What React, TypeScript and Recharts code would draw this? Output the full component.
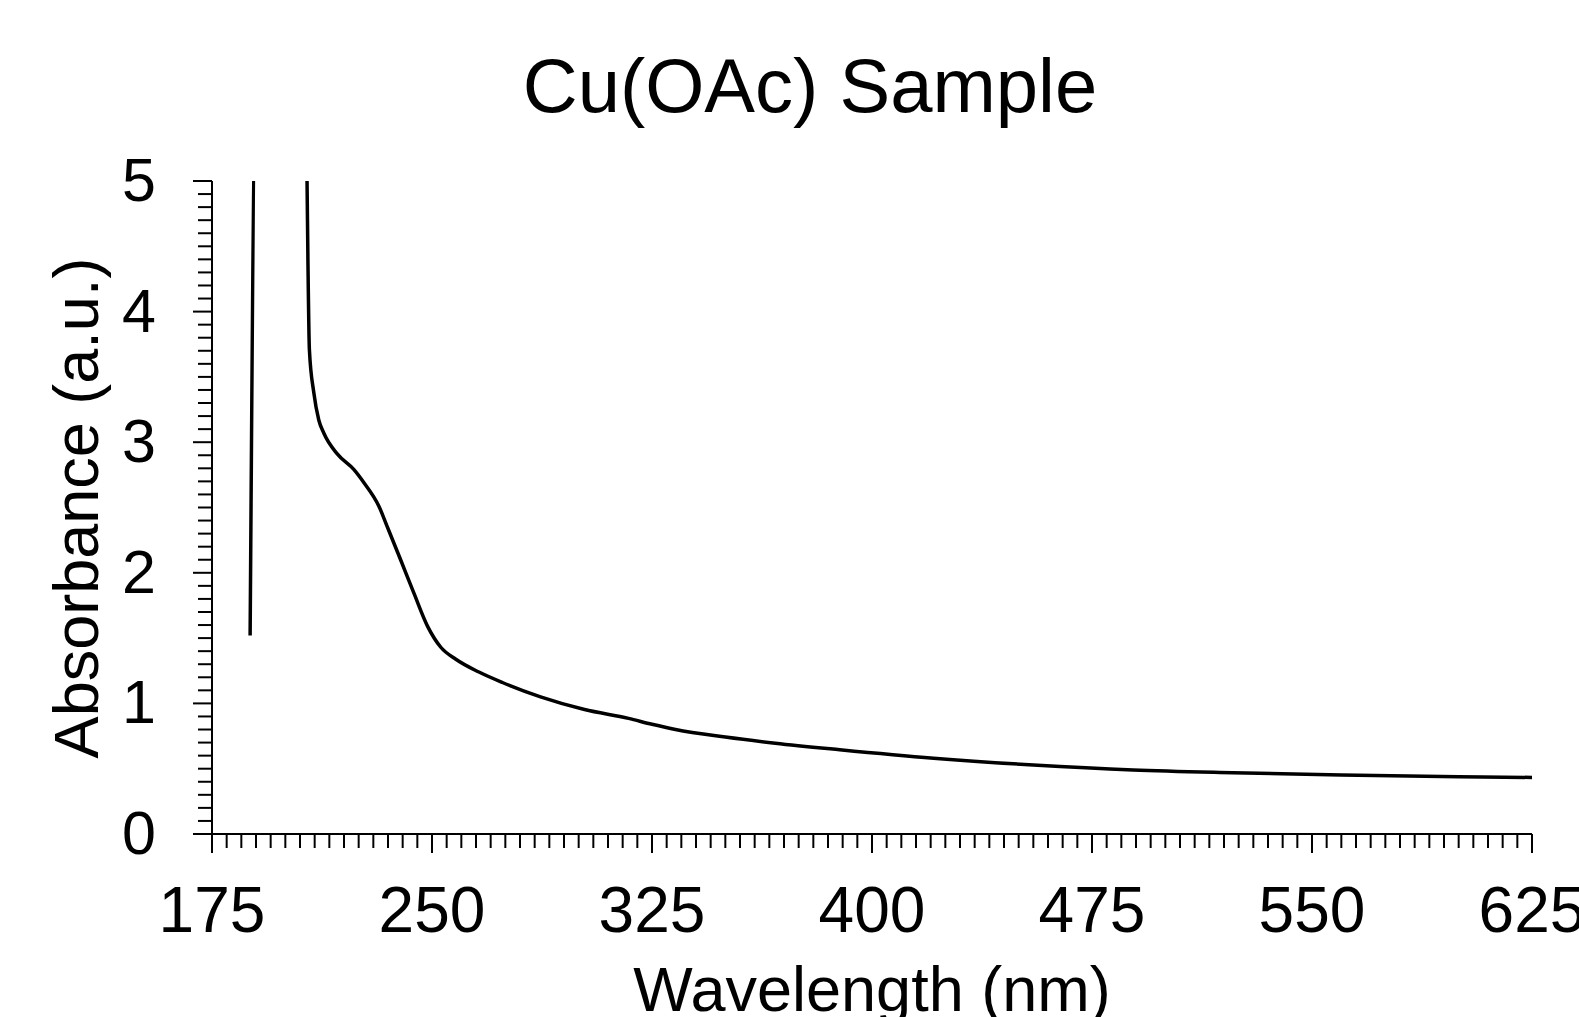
import { LineChart, Line, XAxis, YAxis } from 'recharts'

// Spectre UV-Vis, valeurs (au-dessus de 5 = saturé, coupé par l'axe)
const WAVELENGTH = [
  188, 190, 207, 207.4, 207.7, 208.2, 209.7, 211.4, 213.1, 217.7, 223.4, 226.8, 231.9,
  234.8, 239.3, 243.9, 248.5, 253, 258, 266, 274, 287, 302, 317, 325, 333, 350, 367, 389,
  421, 455, 489, 523, 560, 600, 625,
]
const ABSORBANCE = [
  1.52, 5.8, 5.6, 5.0, 4.4, 3.71, 3.38, 3.17, 3.07, 2.91, 2.79, 2.69, 2.51,
  2.35, 2.1, 1.84, 1.59, 1.43, 1.34, 1.24, 1.16, 1.05, 0.953, 0.885, 0.84, 0.8, 0.742, 0.695, 0.645,
  0.58, 0.528, 0.49, 0.469, 0.452, 0.439, 0.433,
]

const X_MAJOR = [175, 250, 325, 400, 475, 550, 625]
const Y_MAJOR = [0, 1, 2, 3, 4, 5]
const X_MINOR_STEP = 5
const Y_MINOR_STEP = 0.1

const TITLE = 'Cu(OAc) Sample'
const X_LABEL = 'Wavelength (nm)'
const Y_LABEL = 'Absorbance (a.u.)'

const FONT = '"Liberation Sans", Arial, sans-serif'

const data = WAVELENGTH.map((w, i) => ({ w, a: ABSORBANCE[i] }))

const xTicks: number[] = []
for (let i = 0; i <= (X_MAJOR[X_MAJOR.length - 1] - X_MAJOR[0]) / X_MINOR_STEP; i++) xTicks.push(X_MAJOR[0] + i * X_MINOR_STEP)
const yTicks: number[] = []
for (let i = 0; i <= Math.round(Y_MAJOR[Y_MAJOR.length - 1] / Y_MINOR_STEP); i++) yTicks.push(Math.round(i * Y_MINOR_STEP * 10) / 10)

function XTick({ x, y, payload }: any) {
  const major = X_MAJOR.includes(payload.value)
  return (
    <g>
      <line x1={x} x2={x} y1={y} y2={y + (major ? 19 : 14)} stroke="#000" strokeWidth={2} />
      {major && (
        <text x={x} y={y + 98} textAnchor="middle" fontSize={64} fontFamily={FONT} fill="#000">{payload.value}</text>
      )}
    </g>
  )
}

function YTick({ x, y, payload }: any) {
  const major = Y_MAJOR.includes(payload.value)
  return (
    <g>
      <line x1={x - (major ? 19 : 14)} x2={x} y1={y} y2={y} stroke="#000" strokeWidth={2} />
      {major && (
        <text x={x - 56} y={y + 20} textAnchor="end" fontSize={61} fontFamily={FONT} fill="#000">{payload.value}</text>
      )}
    </g>
  )
}

export default function App() {
  return (
    <div style={{ position: 'absolute', left: 0, top: 0, width: 1579, height: 1017, background: '#fff' }}>
      <LineChart width={1579} height={1017} data={data} margin={{ top: 181, right: 47, bottom: 73, left: 42 }}>
        <XAxis
          dataKey="w" type="number" domain={[175, 625]} ticks={xTicks} interval={0}
          height={110} tickSize={0} tickMargin={0} tick={<XTick />}
          axisLine={{ stroke: '#000', strokeWidth: 2 }}
        />
        <YAxis
          type="number" domain={[0, 5]} ticks={yTicks} interval={0} allowDataOverflow
          width={170} tickSize={0} tickMargin={0} tick={<YTick />}
          axisLine={{ stroke: '#000', strokeWidth: 2 }}
        />
        <Line type="monotone" dataKey="a" stroke="#000" strokeWidth={3.5} dot={false} activeDot={false} isAnimationActive={false} />
      </LineChart>
      <svg width={1579} height={1017} style={{ position: 'absolute', left: 0, top: 0, pointerEvents: 'none' }}>
        <text x={810} y={112} textAnchor="middle" fontSize={76} fontFamily={FONT} fill="#000">{TITLE}</text>
        <text x={872} y={1011} textAnchor="middle" fontSize={63} fontFamily={FONT} fill="#000">{X_LABEL}</text>
        <text x={98} y={508} textAnchor="middle" fontSize={63} fontFamily={FONT} fill="#000" transform="rotate(-90 98 508)">{Y_LABEL}</text>
      </svg>
    </div>
  )
}
